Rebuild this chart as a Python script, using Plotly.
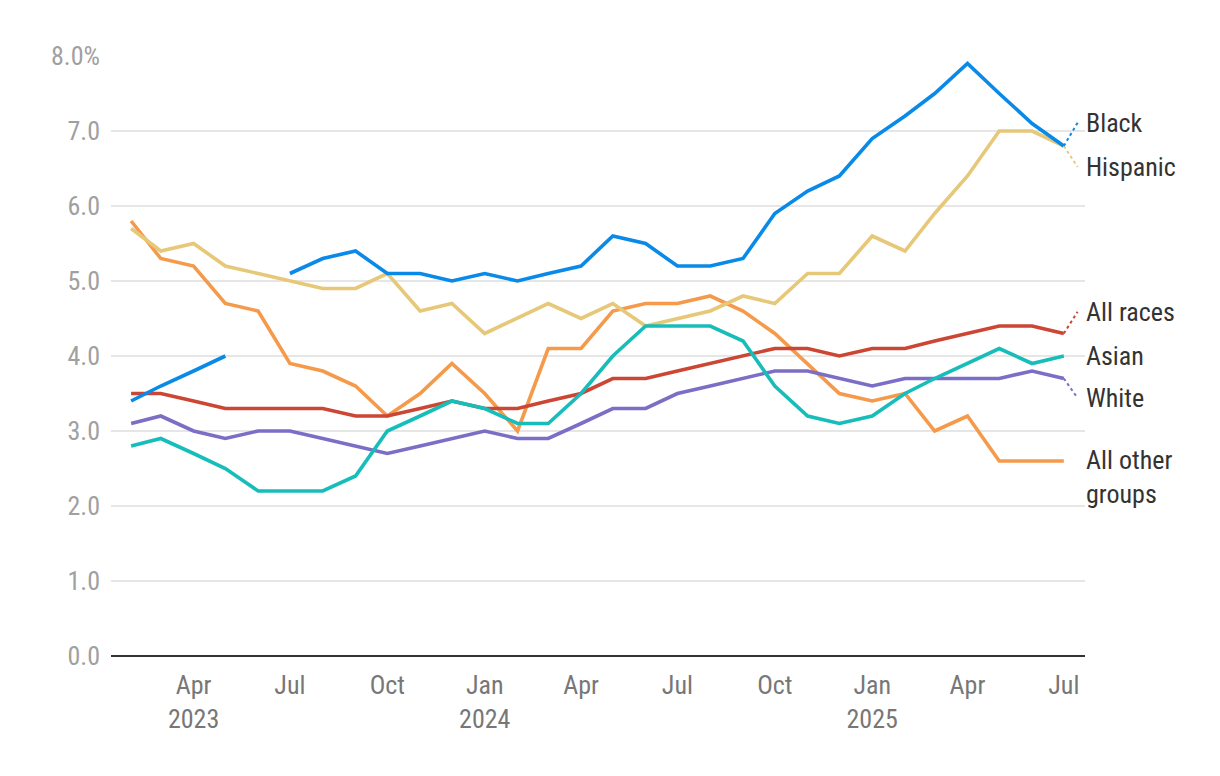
import plotly.graph_objects as go
import pandas as pd

# ---- data (monthly, Feb 2023 - Jul 2025) ----
months = pd.date_range("2023-02-01", "2025-07-01", freq="MS")

black = [3.4, 3.6, 3.8, 4.0, None, 5.1, 5.3, 5.4, 5.1, 5.1, 5.0,
         5.1, 5.0, 5.1, 5.2, 5.6, 5.5, 5.2, 5.2, 5.3, 5.9, 6.2, 6.4,
         6.9, 7.2, 7.5, 7.9, 7.5, 7.1, 6.8]
hispanic = [5.7, 5.4, 5.5, 5.2, 5.1, 5.0, 4.9, 4.9, 5.1, 4.6, 4.7,
            4.3, 4.5, 4.7, 4.5, 4.7, 4.4, 4.5, 4.6, 4.8, 4.7, 5.1, 5.1,
            5.6, 5.4, 5.9, 6.4, 7.0, 7.0, 6.8]
all_other = [5.8, 5.3, 5.2, 4.7, 4.6, 3.9, 3.8, 3.6, 3.2, 3.5, 3.9,
             3.5, 3.0, 4.1, 4.1, 4.6, 4.7, 4.7, 4.8, 4.6, 4.3, 3.9, 3.5,
             3.4, 3.5, 3.0, 3.2, 2.6, 2.6, 2.6]
all_races = [3.5, 3.5, 3.4, 3.3, 3.3, 3.3, 3.3, 3.2, 3.2, 3.3, 3.4,
             3.3, 3.3, 3.4, 3.5, 3.7, 3.7, 3.8, 3.9, 4.0, 4.1, 4.1, 4.0,
             4.1, 4.1, 4.2, 4.3, 4.4, 4.4, 4.3]
asian = [2.8, 2.9, 2.7, 2.5, 2.2, 2.2, 2.2, 2.4, 3.0, 3.2, 3.4,
         3.3, 3.1, 3.1, 3.5, 4.0, 4.4, 4.4, 4.4, 4.2, 3.6, 3.2, 3.1,
         3.2, 3.5, 3.7, 3.9, 4.1, 3.9, 4.0]
white = [3.1, 3.2, 3.0, 2.9, 3.0, 3.0, 2.9, 2.8, 2.7, 2.8, 2.9,
         3.0, 2.9, 2.9, 3.1, 3.3, 3.3, 3.5, 3.6, 3.7, 3.8, 3.8, 3.7,
         3.6, 3.7, 3.7, 3.7, 3.7, 3.8, 3.7]

series_names = ["All other<br>groups", "Hispanic", "White", "All races", "Asian", "Black"]
series_values = [all_other, hispanic, white, all_races, asian, black]
series_colors = ["#f59a4a", "#e6c878", "#7b6ec6", "#cc4634", "#17bdb9", "#0a8ae8"]
# label placement (in value units) at right edge
label_levels = [2.39, 6.52, 3.44, 4.59, 4.0, 7.11]
has_leader = [False, True, True, True, False, True]

y_tickvals = [0, 1, 2, 3, 4, 5, 6, 7, 8]
y_ticktext = ["0.0", "1.0", "2.0", "3.0", "4.0", "5.0", "6.0", "7.0", "8.0%"]
x_tickvals = ["2023-04-01", "2023-07-01", "2023-10-01", "2024-01-01", "2024-04-01",
              "2024-07-01", "2024-10-01", "2025-01-01", "2025-04-01", "2025-07-01"]
x_ticktext = ["Apr<br>2023", "Jul", "Oct", "Jan<br>2024", "Apr", "Jul", "Oct",
              "Jan<br>2025", "Apr", "Jul"]

FONT = "Roboto Condensed, Liberation Sans Narrow, DejaVu Sans Condensed, Roboto, sans-serif"

fig = go.Figure()
for name, vals, col in zip(series_names, series_values, series_colors):
    fig.add_trace(go.Scatter(x=months, y=vals, mode="lines", name=name,
                             line=dict(color=col, width=3.6), connectgaps=False,
                             hoverinfo="skip"))

last_x = months[-1]
leader_end = last_x + pd.Timedelta(days=13)
for name, vals, col, lvl, lead in zip(series_names, series_values, series_colors,
                                       label_levels, has_leader):
    if lead:
        fig.add_shape(type="line", xref="x", yref="y", x0=last_x, y0=vals[-1],
                      x1=leader_end, y1=lvl,
                      line=dict(color=col, width=2, dash="dot"))
    fig.add_annotation(x=1.0, xref="paper", y=lvl, yref="y", text=name,
                       showarrow=False, xanchor="left", yanchor="middle",
                       align="left", xshift=-1,
                       font=dict(family=FONT, size=26, color="#333333"))

fig.update_layout(
    width=1220, height=776,
    margin=dict(l=103, r=143, t=48, b=128),
    paper_bgcolor="white", plot_bgcolor="white",
    showlegend=False,
    font=dict(family=FONT),
)
fig.update_xaxes(
    range=["2023-01-13", "2025-07-21"],
    tickvals=x_tickvals, ticktext=x_ticktext,
    tickfont=dict(family=FONT, size=26, color="#777777"),
    showgrid=False, showline=False, zeroline=False, ticks="",
    ticklabelstandoff=11,
)
fig.update_yaxes(
    range=[0, 8],
    tickvals=y_tickvals, ticktext=y_ticktext,
    tickfont=dict(family=FONT, size=26, color="#a0a0a0"),
    showgrid=True, gridcolor="#e6e6e6", gridwidth=2,
    zeroline=True, zerolinecolor="#333333", zerolinewidth=2,
    showline=False, ticks="", ticklabelstandoff=10,
)

fig.write_html("out.html")
